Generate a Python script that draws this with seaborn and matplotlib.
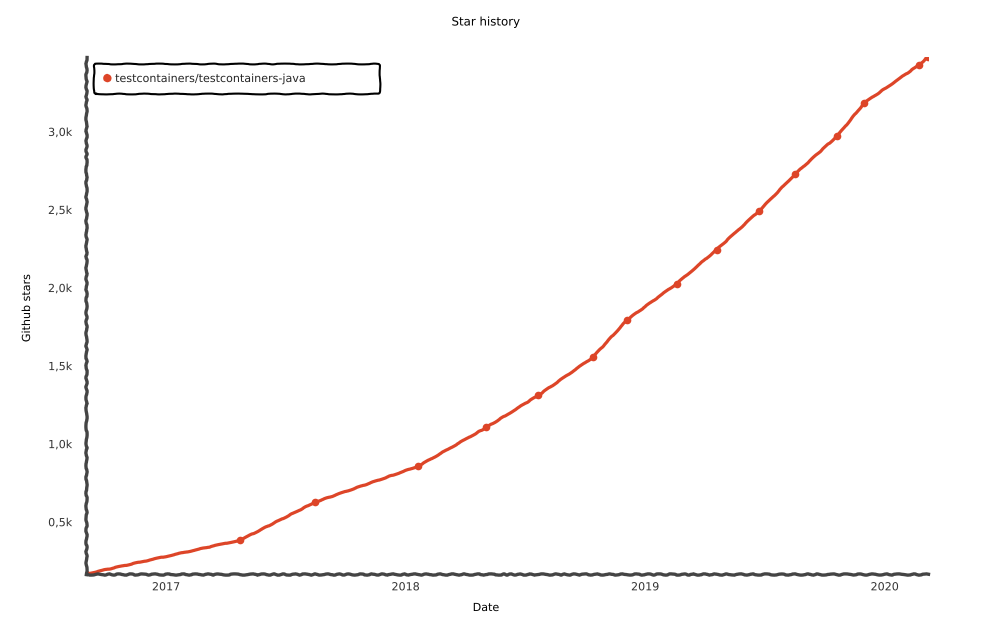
import matplotlib
matplotlib.use("Agg")
import matplotlib.pyplot as plt
from matplotlib.lines import Line2D
import seaborn as sns
import pandas as pd

# ---- data ----
repo = "testcontainers/testcontainers-java"
dates = ["2016-09-01", "2017-04-24", "2017-08-16", "2018-01-20", "2018-05-04",
         "2018-07-22", "2018-10-13", "2018-12-05", "2019-02-18", "2019-04-20",
         "2019-06-24", "2019-08-18", "2019-10-21", "2019-12-01", "2020-02-22",
         "2020-03-07"]
stars = [168, 385, 628, 858, 1107, 1312, 1555, 1798, 2028, 2246,
         2495, 2732, 2975, 3186, 3428, 3480]
y_ticks = [500, 1000, 1500, 2000, 2500, 3000]
y_tick_labels = ["0,5k", "1,0k", "1,5k", "2,0k", "2,5k", "3,0k"]
x_ticks = ["2017-01-01", "2018-01-01", "2019-01-01", "2020-01-01"]
x_tick_labels = ["2017", "2018", "2019", "2020"]
color = "#dd4528"

df = pd.DataFrame({"Date": pd.to_datetime(dates), "Github stars": stars, "repo": repo})

sns.set_theme(style="white")
with plt.xkcd(scale=0.3, length=30, randomness=5):
    plt.rcParams["font.family"] = ["DejaVu Sans"]
    fig = plt.figure(figsize=(10.01, 6.18), dpi=100)
    ax = fig.add_axes([86/1001, 1-574/618, (928-86)/1001, (574-57)/618])
    sns.lineplot(data=df, x="Date", y="Github stars", ax=ax, color=color,
                 linewidth=2.3, marker="o", markersize=5.5, markeredgewidth=0,
                 legend=False)
    for ln in ax.lines:
        ln.set_path_effects([])
    ax.set_xlim(df["Date"].min(), df["Date"].max())
    ax.set_ylim(min(stars), max(stars))
    ax.set_yticks(y_ticks)
    ax.set_yticklabels(y_tick_labels)
    ax.set_xticks(pd.to_datetime(x_ticks))
    ax.set_xticklabels(x_tick_labels)
    ax.tick_params(axis="both", length=0, labelsize=8, colors="#333333")
    ax.tick_params(axis="y", pad=10)
    ax.tick_params(axis="x", pad=6)
    for s in ["top", "right"]:
        ax.spines[s].set_visible(False)
    for s in ["left", "bottom"]:
        ax.spines[s].set_color("#444444")
        ax.spines[s].set_linewidth(2.4)
        ax.spines[s].set_path_effects([])
        ax.spines[s].set_sketch_params(0.6, 15, 3)
    ax.set_xlabel("")
    ax.set_ylabel("")
    fig.text(486/1001, 1-22/618, "Star history", ha="center", va="center", fontsize=8.5, color="black")
    fig.text(486/1001, 1-608/618, "Date", ha="center", va="center", fontsize=8, color="black")
    fig.text(27/1001, 1-308/618, "Github stars", ha="center", va="center", rotation=90, fontsize=8, color="black")

    handle = Line2D([], [], linestyle="none", marker="o", markersize=6,
                    markerfacecolor=color, markeredgewidth=0)
    leg = ax.legend([handle], [repo], loc="upper left",
                    bbox_to_anchor=(8/842, 0.5, 286/842, (574-64)/517 - 0.5),
                    mode="expand", fontsize=8, frameon=True, fancybox=True,
                    borderpad=0.9, handlelength=0.6, handletextpad=0.4,
                    borderaxespad=0)
    frame = leg.get_frame()
    frame.set_edgecolor("black")
    frame.set_linewidth(1.5)
    frame.set_facecolor("white")
    frame.set_alpha(1)
    frame.set_sketch_params(0.4, 40, 4)

    fig.savefig("out.png", dpi=100)
